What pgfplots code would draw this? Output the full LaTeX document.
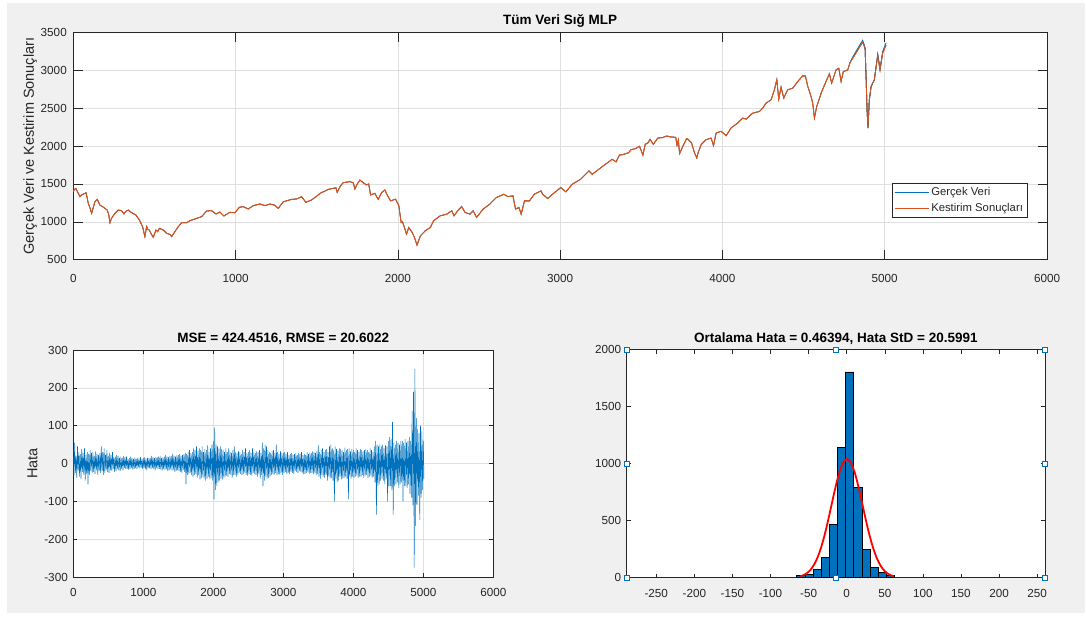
\documentclass[border=0pt]{standalone}
\usepackage{pgfplots}
\pgfplotsset{compat=1.18}
\usepackage{pgfplotstable}
\usepackage{fontspec}
\setmainfont{Liberation Sans}
\definecolor{mblue}{RGB}{0,114,189}
\definecolor{morange}{RGB}{217,83,25}
\definecolor{mgray}{RGB}{240,240,240}
\definecolor{maxis}{RGB}{38,38,38}
\definecolor{mgrid}{RGB}{223,223,223}

\pgfplotstableread{
x y
0 1400
8 1430
16 1441
25 1400
41 1331
55 1360
72 1375
78 1384
85 1320
92 1243
100 1200
113 1112
122 1180
133 1265
148 1296
164 1221
180 1200
195 1177
209 1155
218 1100
226 988
234 1040
242 1067
257 1112
277 1155
298 1147
312 1103
325 1140
339 1155
359 1120
386 1090
407 1024
427 936
441 804
452 936
460 900
468 892
480 840
493 795
509 892
520 870
530 914
554 892
575 848
595 834
606 804
626 870
645 930
667 988
698 988
719 1015
740 1030
760 1046
791 1068
821 1142
852 1147
879 1103
903 1129
928 1076
945 1100
965 1125
996 1120
1023 1191
1047 1200
1078 1169
1109 1213
1150 1235
1181 1213
1211 1235
1240 1220
1263 1177
1294 1265
1320 1280
1345 1296
1376 1301
1407 1331
1433 1257
1468 1288
1495 1330
1520 1375
1545 1400
1571 1428
1600 1440
1618 1450
1626 1389
1645 1470
1663 1516
1704 1529
1725 1516
1735 1433
1750 1500
1766 1551
1786 1516
1807 1485
1820 1500
1832 1354
1858 1375
1879 1296
1899 1384
1920 1420
1935 1350
1955 1276
1986 1298
2006 1211
2020 991
2028 1000
2037 947
2053 838
2067 925
2088 860
2102 794
2118 693
2139 816
2169 882
2200 925
2220 1013
2261 1079
2301 1101
2332 1145
2346 1079
2370 1150
2393 1202
2414 1123
2444 1101
2464 1145
2485 1057
2525 1167
2566 1232
2607 1320
2652 1364
2678 1333
2709 1342
2725 1167
2746 1189
2760 1101
2780 1276
2811 1276
2841 1364
2882 1408
2892 1364
2923 1307
2953 1364
3004 1452
3035 1395
3075 1496
3126 1561
3157 1627
3177 1671
3198 1627
3238 1693
3279 1760
3304 1798
3320 1825
3345 1790
3365 1880
3386 1886
3422 1912
3437 1952
3463 1965
3489 1996
3510 1880
3524 2022
3540 2039
3554 2088
3574 2022
3602 2105
3630 2110
3657 2132
3680 2120
3712 2115
3720 2010
3728 2080
3736 1900
3756 1996
3779 2096
3786 2092
3809 2044
3828 1908
3842 1842
3850 1912
3869 2018
3899 2083
3930 2105
3945 2004
3961 2171
3992 2193
4023 2136
4053 2237
4094 2303
4125 2368
4146 2355
4187 2434
4228 2456
4248 2500
4269 2566
4300 2610
4320 2741
4335 2873
4347 2618
4361 2776
4378 2632
4402 2741
4433 2763
4464 2851
4495 2925
4511 2925
4526 2785
4546 2653
4556 2566
4567 2368
4581 2522
4608 2697
4638 2851
4659 2952
4673 2829
4700 3004
4717 3026
4731 2851
4745 2982
4772 3004
4786 3101
4803 3158
4834 3268
4864 3370
4879 3289
4885 2917
4891 2478
4897 2237
4905 2610
4916 2785
4936 2873
4957 3200
4971 3004
4987 3224
5008 3335
}\toptab

\pgfplotstableread{
x y
4786 3101
4803 3175
4834 3290
4864 3395
4875 3330
4879 3289
4885 2917
4891 2478
4897 2237
4905 2610
4916 2785
4936 2873
4957 3215
4971 3020
4987 3245
5008 3362
}\bluetail

\pgfplotstableread{
hata
35
-30
55
-25
20
-38
45
-20
30
-35
25
-40
38
-22
28
-30
40
-45
22
-28
30
-55
25
-30
35
-20
28
-25
30
-22
20
-28
32
-18
25
-30
22
-20
28
-25
45
-20
30
-30
40
-25
22
-18
35
-22
20
-25
28
-18
22
-20
30
-15
18
-22
18
-20
22
-15
20
-18
15
-20
18
-14
15
-18
20
-12
16
-15
18
-14
12
-16
14
-15
18
-12
15
-16
12
-14
16
-12
12
-14
15
-10
13
-12
16
-11
12
-14
14
-12
16
-15
12
-18
15
-12
14
-13
15
-14
20
-12
16
-15
14
-18
17
-12
16
-15
18
-14
20
-16
15
-18
16
-15
18
-16
22
-15
18
-20
16
-18
20
-15
20
-18
25
-16
20
-22
18
-20
22
-18
22
-20
25
-22
20
-25
22
-18
25
-22
28
-55
25
-30
30
-28
35
-25
28
-30
30
-35
40
-30
35
-28
45
-38
32
-30
40
-42
35
-38
45
-35
30
-40
38
-45
35
-40
48
-35
30
-42
40
-38
50
-45
60
-95
95
-70
50
-60
45
-50
40
-45
45
-40
38
-42
35
-38
30
-35
40
-32
30
-35
40
-28
32
-30
28
-38
35
-30
45
-30
30
-35
28
-30
32
-25
30
-28
25
-30
35
-28
30
-25
40
-30
28
-32
30
-28
35
-30
28
-32
40
-25
30
-28
28
-30
32
-35
30
-28
35
-40
28
-30
55
-60
40
-45
50
-35
45
-40
35
-38
30
-35
28
-30
32
-28
35
-30
28
-25
50
-30
30
-28
25
-30
32
-25
28
-30
28
-25
30
-22
25
-28
30
-25
22
-28
25
-22
28
-25
22
-28
25
-20
28
-22
22
-25
28
-20
25
-22
30
-25
22
-28
25
-28
22
-25
30
-22
25
-28
28
-25
28
-25
32
-28
30
-25
28
-30
32
-28
48
-35
30
-40
35
-30
40
-35
30
-38
35
-30
38
-45
30
-35
45
-40
50
-38
40
-45
35
-100
45
-40
38
-50
35
-45
40
-35
38
-42
35
-40
30
-38
42
-35
35
-40
38
-95
40
-35
32
-40
38
-35
35
-38
30
-35
40
-32
35
-38
30
-35
38
-35
35
-30
32
-38
35
-32
38
-30
35
-38
30
-35
40
-32
35
-38
30
-35
45
-50
60
-135
50
-60
45
-55
50
-45
45
-40
50
-45
40
-55
48
-42
45
-100
60
-60
70
-60
65
-70
110
-135
55
-60
50
-55
60
-50
55
-65
50
-55
60
-50
60
-100
55
-60
65
-60
55
-65
60
-55
70
-80
60
-90
140
-110
190
-275
250
-165
120
-110
90
-85
80
-150
100
-90
85
-70
60
-40
}\hatatab

\pgfplotsset{
  mstyle/.style={
    scale only axis,
    axis line style={maxis, line width=0.5pt},
    tick style={maxis, line width=0.5pt},
    tick align=inside,
    ticklabel style={font=\fontsize{11.7}{13}\selectfont, text=maxis},
    /pgf/number format/assume math mode=true,
    /pgf/number format/1000 sep={},
    scaled ticks=false,
    axis background/.style={fill=white},
    title style={font=\bfseries\fontsize{13.5}{15}\selectfont, text=black, at={(0.5,1)}, anchor=base, yshift=1.5pt},
    ylabel style={font=\fontsize{14.5}{16}\selectfont, text=maxis, anchor=base},
    grid style={mgrid, line width=0.5pt},
  }
}

\begin{document}
\begin{tikzpicture}
\fill[white] (0pt,0pt) rectangle (1086pt,621pt);
\fill[mgray] (7pt,8pt) rectangle (1085pt,618pt);

% top axis
\begin{axis}[mstyle,
  at={(73.3pt,588.7pt)}, anchor=north west,
  width=973.7pt, height=227.4pt,
  xmin=0, xmax=6000, ymin=500, ymax=3500,
  xtick={0,1000,...,6000}, ytick={500,1000,...,3500},
  major tick length=9.5pt,
  grid=major,
  xticklabel style={yshift=-11pt},
  yticklabel style={xshift=-3pt},
  title={Tüm Veri Sığ MLP},
  ylabel={Gerçek Veri ve Kestirim Sonuçları},
  ylabel style={at={(axis description cs:-0.0405,0.5)}},
  legend style={at={(0.8408,0.3373)}, anchor=north west, draw=maxis, fill=white,
    font=\fontsize{11.3}{12}\selectfont, text=maxis, line width=0.5pt,
    inner xsep=2pt, inner ysep=2.5pt, row sep=2pt, cells={anchor=west}},
  legend image code/.code={\draw[#1, line width=1pt] (0pt,0pt) -- (34pt,0pt);},
]
\addplot[mblue, line width=0.8pt] table[x=x,y=y] {\toptab};
\addlegendentry{Gerçek Veri}
\addplot[morange, line width=0.8pt] table[x=x,y=y] {\toptab};
\addlegendentry{Kestirim Sonuçları}
\addplot[mblue, line width=0.8pt, forget plot] table[x=x,y=y] {\bluetail};
\addplot[morange, line width=0.8pt, forget plot] table[x=x,y=y] {\toptab};
\end{axis}

% bottom-left error axis
\begin{axis}[mstyle,
  at={(73.3pt,271pt)}, anchor=north west,
  width=420pt, height=227pt,
  xmin=0, xmax=6000, ymin=-300, ymax=300,
  xtick={0,1000,...,6000}, ytick={-300,-200,...,300},
  major tick length=4pt,
  grid=major,
  xticklabel style={yshift=-8pt},
  yticklabel style={xshift=-2pt},
  title={MSE = 424.4516, RMSE = 20.6022},
  ylabel={Hata},
  ylabel style={at={(axis description cs:-0.0857,0.5)}},
]
\addplot[mblue, line width=0.5pt] table[x expr=\coordindex*10, y index=0] {\hatatab};
\end{axis}

% bottom-right histogram axis
\begin{axis}[mstyle,
  at={(626.7pt,271.3pt)}, anchor=north west,
  width=418.3pt, height=228pt,
  xmin=-288.8, xmax=260.4, ymin=0, ymax=2000,
  xtick={-250,-200,...,250}, ytick={0,500,...,2000},
  major tick length=4pt,
  xticklabel style={yshift=-8pt},
  yticklabel style={xshift=-2pt},
  title={Ortalama Hata = 0.46394, Hata StD = 20.5991},
  clip=false,
]
\addplot[ybar interval, fill=mblue, draw=black, line width=0.6pt] coordinates {
(-65.6,18) (-54.9,29) (-44.2,70) (-33.6,176) (-22.9,470) (-12.2,1145) (-1.5,1806)
(9.2,790) (19.9,250) (30.5,88) (41.2,44) (51.9,18) (62.6,18)};
\addplot[red, line width=1.8pt, smooth] coordinates {
(-61,12) (-55,27.7) (-50,51.8) (-45,91.1) (-40,151.1) (-35,236.4) (-30,348.5)
(-25,484.5) (-20,635.1) (-15,784.8) (-10,914.3) (-5,1004.1) (0,1039.7)
(5,1015.1) (10,934.2) (15,810.7) (20,663.2) (25,511.5) (30,371.9) (35,255.0)
(40,164.8) (45,100.5) (50,57.7) (55,31.3) (60,16.0) (62,12.0)};
\addplot[only marks, mark=square*, mark size=2.5pt, mark options={draw=mblue, fill=white, line width=0.8pt}] coordinates {
(-288.8,0) (-288.8,1000) (-288.8,2000) (-14.2,0) (-14.2,2000) (260.4,0) (260.4,1000) (260.4,2000)};
\end{axis}
\pgfresetboundingbox
\useasboundingbox (0pt,0pt) rectangle (1086pt,621pt);
\end{tikzpicture}
\end{document}
